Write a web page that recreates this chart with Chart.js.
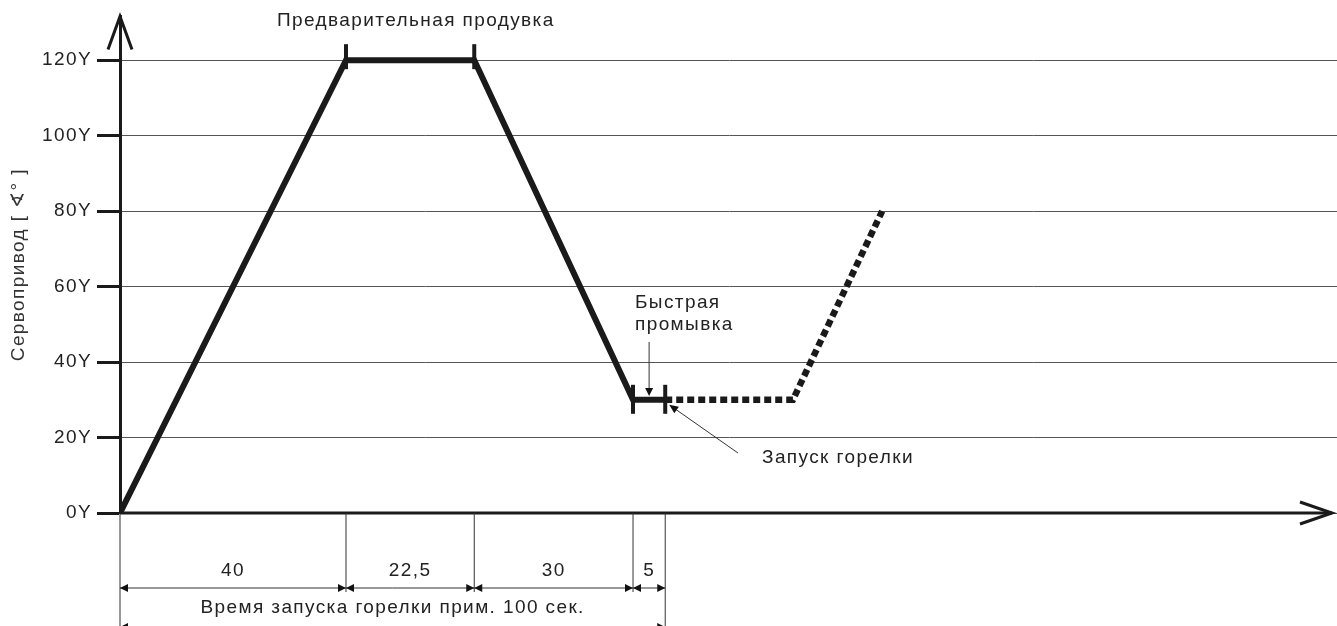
<!DOCTYPE html>
<html>
<head>
<meta charset="utf-8">
<script src="https://cdn.jsdelivr.net/npm/chart.js@4"></script>
<style>
  body { margin: 0; background: #fff; }
  #wrap { width: 1337px; height: 626px; position: relative; }
</style>
</head>
<body>
<div id="wrap"><canvas id="chServo"></canvas></div>
<script>
// chart data (x in seconds, y in degrees)
var mainX = [0, 40, 62.7, 90.8, 96.5];
var mainY = [0, 120, 120, 30, 30];
var dotX = [96.5, 119.1, 134.9];
var dotY = [30, 30, 80];
var yTicks = [0, 20, 40, 60, 80, 100, 120];
var stepBounds = [0, 40, 62.7, 90.8, 96.5];
var stepLabels = ['40', '22,5', '30', '5'];
var totalLabel = 'Время запуска горелки прим. 100 сек.';

var font = 'Liberation Sans';
var fontSize = 19;
var spacing = '1.4px';
var ink = '#1a1a1a';

function toPts(xs, ys) {
    return xs.map(function (x, i) { return { x: x, y: ys[i] }; });
}

function arrowHead(ctx, x, y, dx, dy, len, half) {
    // filled arrowhead with tip at x,y pointing along dx,dy
    var px = -dy, py = dx;
    ctx.beginPath();
    ctx.moveTo(x, y);
    ctx.lineTo(x - dx * len + px * half, y - dy * len + py * half);
    ctx.lineTo(x - dx * len - px * half, y - dy * len - py * half);
    ctx.closePath();
    ctx.fill();
}

// wide tracking like the original lettering
var tracking = {
    id: 'tracking',
    beforeLayout: function (chart) { chart.ctx.letterSpacing = spacing; },
    beforeDraw: function (chart) { chart.ctx.letterSpacing = spacing; }
};

// extra drawing: axis arrows, dimension lines, notes
var notes = {
    id: 'notes',
    afterDraw: function (chart) {
        var ctx = chart.ctx;
        var xs = chart.scales.x, ys = chart.scales.y;
        var area = chart.chartArea;
        var X = function (v) { return xs.getPixelForValue(v); };
        var Y = function (v) { return ys.getPixelForValue(v); };
        var y0 = Y(0);
        ctx.save();
        ctx.letterSpacing = spacing;
        ctx.strokeStyle = ink;
        ctx.fillStyle = ink;
        ctx.lineCap = 'butt';

        // x axis with open arrow
        ctx.lineWidth = 3;
        ctx.beginPath();
        ctx.moveTo(area.left, y0);
        ctx.lineTo(1332, y0);
        ctx.stroke();
        ctx.beginPath();
        ctx.moveTo(1300, y0 - 11);
        ctx.lineTo(1332, y0);
        ctx.lineTo(1300, y0 + 11);
        ctx.stroke();

        // y axis arrow
        ctx.beginPath();
        ctx.moveTo(area.left - 12, area.top + 33);
        ctx.lineTo(area.left, area.top);
        ctx.lineTo(area.left + 12, area.top + 33);
        ctx.stroke();

        // marks at ends of the pre-purge and fast purge
        ctx.lineWidth = 4;
        [[40, 120], [62.7, 120]].forEach(function (p) {
            ctx.beginPath();
            ctx.moveTo(X(p[0]), Y(p[1]) - 16);
            ctx.lineTo(X(p[0]), Y(p[1]) + 9);
            ctx.stroke();
        });
        [[90.8, 30], [96.5, 30]].forEach(function (p) {
            ctx.beginPath();
            ctx.moveTo(X(p[0]), Y(p[1]) - 15);
            ctx.lineTo(X(p[0]), Y(p[1]) + 14);
            ctx.stroke();
        });

        // dimension lines under the axis
        ctx.lineWidth = 1;
        ctx.strokeStyle = '#333';
        ctx.fillStyle = '#111';
        var dimY = 588;
        stepBounds.forEach(function (b, i) {
            var last = (i === 0 || i === stepBounds.length - 1);
            ctx.beginPath();
            ctx.moveTo(X(b), y0);
            ctx.lineTo(X(b), last ? 626 : dimY + 4);
            ctx.stroke();
        });
        ctx.beginPath();
        ctx.moveTo(X(stepBounds[0]), dimY);
        ctx.lineTo(X(stepBounds[stepBounds.length - 1]), dimY);
        ctx.stroke();
        ctx.font = fontSize + 'px "' + font + '"';
        ctx.textAlign = 'center';
        ctx.textBaseline = 'middle';
        ctx.fillStyle = '#222';
        for (var i = 0; i < stepLabels.length; i++) {
            var a = X(stepBounds[i]), b = X(stepBounds[i + 1]);
            ctx.fillStyle = '#111';
            arrowHead(ctx, a, dimY, -1, 0, 8, 4);
            arrowHead(ctx, b, dimY, 1, 0, 8, 4);
            ctx.fillStyle = '#222';
            ctx.fillText(stepLabels[i], (a + b) / 2, dimY - 17);
        }
        var tl = X(stepBounds[0]), tr = X(stepBounds[stepBounds.length - 1]);
        ctx.fillText(totalLabel, (tl + tr) / 2, 608);
        ctx.fillStyle = '#111';
        ctx.beginPath();
        ctx.moveTo(tl, 627);
        ctx.lineTo(tr, 627);
        ctx.stroke();
        arrowHead(ctx, tl, 627, -1, 0, 8, 4);
        arrowHead(ctx, tr, 627, 1, 0, 8, 4);

        // notes
        ctx.fillStyle = '#222';
        ctx.textAlign = 'left';
        ctx.fillText('Предварительная продувка', 277, 21);
        ctx.fillText('Быстрая', 635, 303);
        ctx.fillText('промывка', 635, 325);
        ctx.fillText('Запуск горелки', 762, 458);

        // fast purge pointer
        ctx.fillStyle = '#111';
        var fx = (X(90.8) + X(96.5)) / 2;
        ctx.beginPath();
        ctx.moveTo(fx, 342);
        ctx.lineTo(fx, 390);
        ctx.stroke();
        arrowHead(ctx, fx, 396, 0, 1, 8, 4);

        // burner start pointer
        var sx = 738, sy = 453, ex = X(96.5) + 4, ey = Y(30) + 5;
        var dx = ex - sx, dy = ey - sy, l = Math.sqrt(dx * dx + dy * dy);
        ctx.beginPath();
        ctx.moveTo(sx, sy);
        ctx.lineTo(ex - dx / l * 6, ey - dy / l * 6);
        ctx.stroke();
        arrowHead(ctx, ex, ey, dx / l, dy / l, 9, 4);

        ctx.restore();
    }
};

var servoData = {
    datasets: [
        {
            data: toPts(mainX, mainY),
            borderColor: ink,
            borderWidth: 6,
            pointRadius: 0,
            tension: 0
        },
        {
            data: toPts(dotX, dotY),
            borderColor: ink,
            borderWidth: 6.5,
            borderDash: [7, 4],
            pointRadius: 0,
            tension: 0
        }
    ]
};

var servoOptions = {
    responsive: true,
    maintainAspectRatio: false,
    animation: false,
    layout: { padding: { top: 15, right: 0, bottom: 113, left: 0 } },
    plugins: { legend: { display: false }, tooltip: { enabled: false } },
    scales: {
        x: { type: 'linear', display: false, min: 0, max: 215.4 },
        y: {
            type: 'linear',
            min: 0,
            max: 131.6,
            afterBuildTicks: function (scale) {
                scale.ticks = yTicks.map(function (v) { return { value: v }; });
            },
            afterFit: function (scale) { scale.width = 120; },
            border: { display: true, width: 3, color: ink },
            grid: {
                color: '#555',
                lineWidth: 1,
                tickLength: 23,
                tickWidth: 3,
                tickColor: ink
            },
            ticks: {
                padding: 5,
                color: '#222',
                font: { family: font, size: fontSize },
                callback: function (v) { return v + 'Y'; }
            },
            title: {
                display: true,
                text: 'Сервопривод [ ∢° ]',
                color: '#333',
                font: { family: font, size: fontSize },
                padding: { top: 7, bottom: 0 }
            }
        }
    }
};

var chServo = document.getElementById('chServo');
if (chServo) {
    new Chart(chServo, {
        type: 'line',
        data: servoData,
        options: servoOptions,
        plugins: [tracking, notes]
    });
}
</script>
</body>
</html>
